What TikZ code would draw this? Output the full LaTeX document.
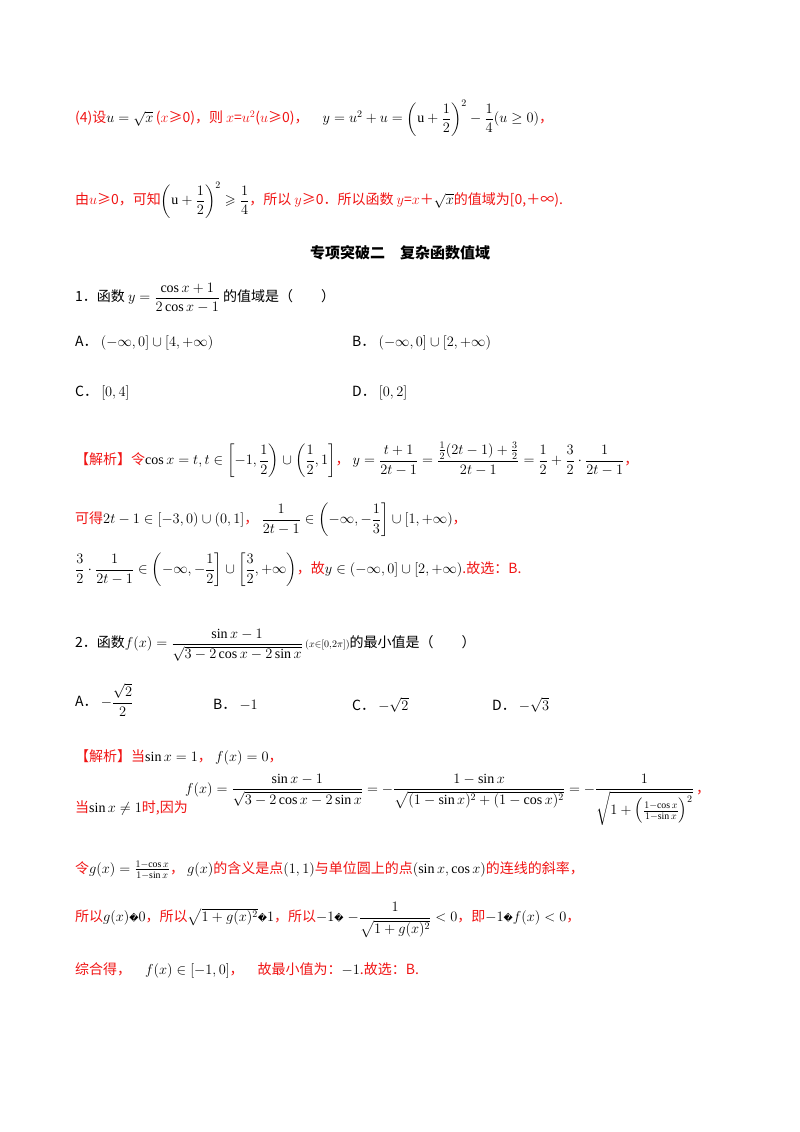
\documentclass[tikz,border=0pt]{standalone}
\usepackage{amsmath,amssymb}
\usepackage{fontspec}
\setmainfont{Liberation Serif}
\newfontfamily\cjk{Noto Sans CJK SC}
\newfontfamily\dv{DejaVu Sans}
\newcommand{\qq}{{\dv\small\char"FFFD}}
\definecolor{ans}{RGB}{240,20,20}
\tikzset{t/.style={anchor=west,inner sep=0pt,font=\fontsize{14}{16}\selectfont\cjk},
 r/.style={t,text=ans}}
\begin{document}
\begin{tikzpicture}[x=1pt,y=-1pt]
\useasboundingbox (0,0) rectangle (800,1132);
\node[r] (l1) at (75,118) {(4)设{\color{black}$u=\sqrt{x}$}\,($x$≥0)，则 $x$=$u^2$($u$≥0)，\quad {\color{black}$y=u^2+u=\left(\mathrm{u}+\dfrac12\right)^{2}-\dfrac14(u\ge 0)$}，};
\node[r] (l2) at (75,200) {由$u$≥0，可知{\color{black}$\left(\mathrm{u}+\dfrac12\right)^{2}\geqslant\dfrac14$}，所以 $y$≥0．所以函数 $y$=$x$＋{\color{black}$\sqrt{x}$}的值域为[0,＋∞).};
\node[t,anchor=center,font=\fontsize{15}{17}\selectfont\cjk\bfseries] (h) at (400,253) {专项突破二\quad 复杂函数值域};
\node[t] (q1) at (75,298) {1．函数 $y=\dfrac{\cos x+1}{2\cos x-1}$ 的值域是（\qquad）};
\node[t] (a1) at (75,343) {A．\ $(-\infty,0]\cup[4,+\infty)$};
\node[t] (b1) at (352,343) {B．\ $(-\infty,0]\cup[2,+\infty)$};
\node[t] (c1) at (75,393) {C．\ $[0,4]$};
\node[t] (d1) at (352,393) {D．\ $[0,2]$};
\node[r] (s1) at (75,460) {【解析】令{\color{black}$\cos x=t,t\in\left[-1,\dfrac12\right)\cup\left(\dfrac12,1\right]$}，\ {\color{black}$y=\dfrac{t+1}{2t-1}=\dfrac{\frac12(2t-1)+\frac32}{2t-1}=\dfrac12+\dfrac32\cdot\dfrac1{2t-1}$}，};
\node[r] (s2) at (75,520) {可得{\color{black}$2t-1\in[-3,0)\cup(0,1]$}，\ {\color{black}$\dfrac1{2t-1}\in\left(-\infty,-\dfrac13\right]\cup[1,+\infty)$}，};
\node[r] (s3) at (75,570) {{\color{black}$\dfrac32\cdot\dfrac1{2t-1}\in\left(-\infty,-\dfrac12\right]\cup\left[\dfrac32,+\infty\right)$}，故{\color{black}$y\in(-\infty,0]\cup[2,+\infty)$}.故选：B.};
\node[t] (q2) at (75,645) {2．函数{\color{black}$f(x)=\dfrac{\sin x-1}{\sqrt{3-2\cos x-2\sin x}}\,{\scriptstyle(x\in[0,2\pi])}$}的最小值是（\qquad）};
\node[t] (a2) at (75,700) {A．\ $-\dfrac{\sqrt2}{2}$};
\node[t] (b2) at (213,705) {B．\ $-1$};
\node[t] (c2) at (352,705) {C．\ $-\sqrt2$};
\node[t] (d2) at (492,705) {D．\ $-\sqrt3$};
\node[r] (s4) at (75,757) {【解析】当{\color{black}$\sin x=1$}，\ {\color{black}$f(x)=0$}，};
\node[r] (s5a) at (75,808) {当{\color{black}$\sin x\ne1$}时,因为};
\node[t] (s5b) at (185,800) {$f(x)=\dfrac{\sin x-1}{\sqrt{3-2\cos x-2\sin x}}=-\dfrac{1-\sin x}{\sqrt{(1-\sin x)^2+(1-\cos x)^2}}=-\dfrac{1}{\sqrt{1+\left(\frac{1-\cos x}{1-\sin x}\right)^2}}$\,{\color{ans}，}};
\node[r] (s6) at (75,870) {令{\color{black}$g(x)=\frac{1-\cos x}{1-\sin x}$}，\ {\color{black}$g(x)$}的含义是点{\color{black}$(1,1)$}与单位圆上的点{\color{black}$(\sin x,\cos x)$}的连线的斜率，};
\node[r] (s7) at (75,920) {所以{\color{black}$g(x)$\qq$0$}，所以{\color{black}$\sqrt{1+g(x)^2}$\qq$1$}，所以{\color{black}$-1$\qq$\;-\dfrac{1}{\sqrt{1+g(x)^2}}<0$}，即{\color{black}$-1$\qq$f(x)<0$}，};
\node[r] (s8) at (75,970) {综合得，\quad{\color{black}$f(x)\in[-1,0]$}，\quad 故最小值为：{\color{black}$-1$}.故选：B.};
\end{tikzpicture}
\end{document}
